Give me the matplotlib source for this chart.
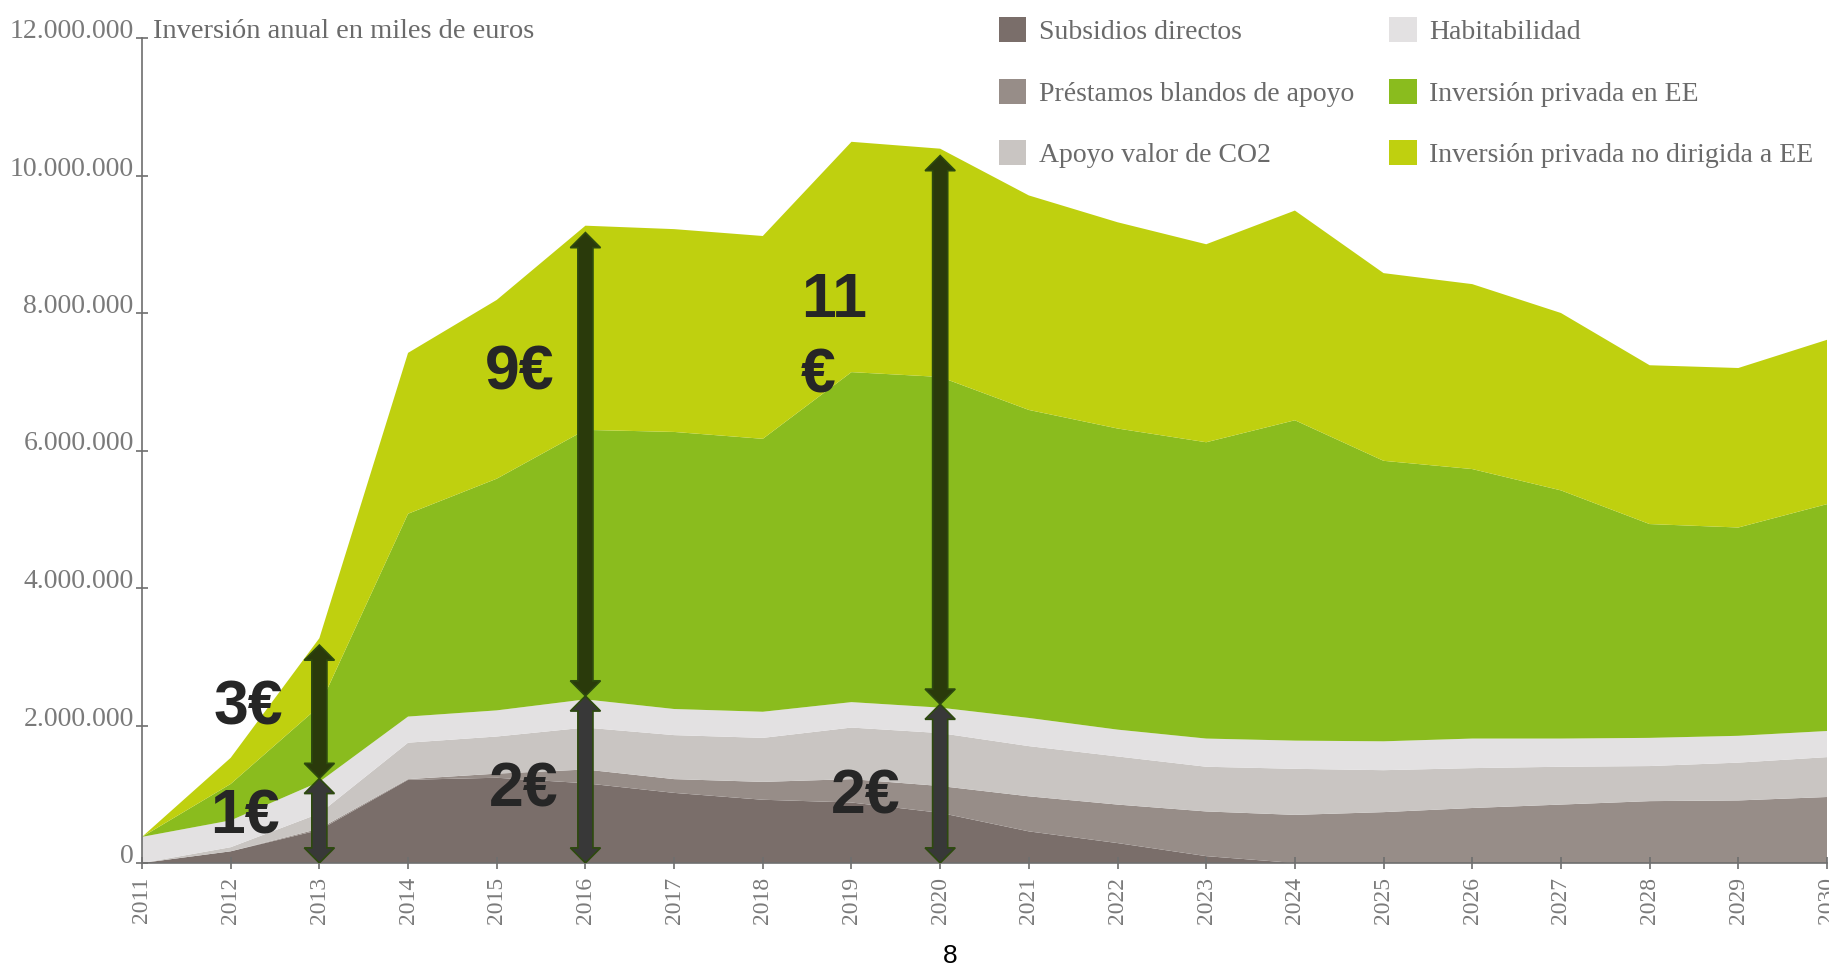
import numpy as np
import matplotlib
matplotlib.use("Agg")
import matplotlib.pyplot as plt
from matplotlib.patches import Polygon
from matplotlib.ticker import FuncFormatter

# --- data (millions of thousand-euros) ---
years = list(range(2011, 2031))
subsidios = [0.00, 0.17, 0.48, 1.21, 1.24, 1.16, 1.02, 0.92, 0.88, 0.73,
             0.46, 0.29, 0.10, 0.00, 0.00, 0.00, 0.00, 0.00, 0.00, 0.00]
prestamos = [0.00, 0.00, 0.02, 0.01, 0.06, 0.20, 0.20, 0.26, 0.34, 0.39,
             0.51, 0.56, 0.65, 0.70, 0.74, 0.80, 0.85, 0.90, 0.91, 0.96]
co2 = [0.00, 0.06, 0.22, 0.53, 0.54, 0.61, 0.64, 0.64, 0.75, 0.77,
       0.73, 0.70, 0.65, 0.67, 0.61, 0.58, 0.55, 0.51, 0.55, 0.58]
habitabilidad = [0.38, 0.39, 0.46, 0.38, 0.38, 0.41, 0.38, 0.38, 0.37, 0.37,
                 0.41, 0.39, 0.41, 0.41, 0.42, 0.43, 0.41, 0.41, 0.39, 0.38]
privada_ee = [0.00, 0.53, 1.10, 2.95, 3.37, 3.92, 4.03, 3.97, 4.80, 4.81,
              4.48, 4.38, 4.31, 4.66, 4.08, 3.92, 3.61, 3.11, 3.03, 3.30]
privada_no_ee = [0.00, 0.38, 0.99, 2.34, 2.60, 2.97, 2.95, 2.95, 3.35, 3.32,
                 3.12, 3.00, 2.88, 3.05, 2.73, 2.69, 2.58, 2.31, 2.32, 2.39]

labels = ["Subsidios directos", "Préstamos blandos de apoyo", "Apoyo valor de CO2",
          "Habitabilidad", "Inversión privada en EE", "Inversión privada no dirigida a EE"]
colors = ["#7A6E6A", "#978D88", "#C9C5C2", "#E3E1E2", "#8ABC1E", "#BFD00F"]

# annotated years
arrow_years = [2013, 2016, 2020]

layers = np.array([subsidios, prestamos, co2, habitabilidad, privada_ee, privada_no_ee]) * 1e6
public_top = layers[:4].sum(axis=0)
total = layers.sum(axis=0)

# --- plot ---
fig = plt.figure(figsize=(18.29, 9.67), dpi=100)
ax = fig.add_axes([142 / 1829, 1 - 863 / 967, 1685 / 1829, 825 / 967])

ax.stackplot(years, layers, labels=labels, colors=colors, linewidth=0)

ax.set_xlim(2011, 2030)
ax.set_ylim(0, 12e6)
ax.set_xticks(years)
ax.set_yticks(np.arange(0, 12e6 + 1, 2e6))
ax.yaxis.set_major_formatter(FuncFormatter(lambda v, p: f"{v:,.0f}".replace(",", ".")))

grey = "#7a7a7a"
for s in ["top", "right"]:
    ax.spines[s].set_visible(False)
for s in ["left", "bottom"]:
    ax.spines[s].set_color("#6e6e6e")
    ax.spines[s].set_linewidth(1.2)
ax.tick_params(direction="inout", length=8, width=1.2, color="#6e6e6e")
ax.tick_params(axis="y", labelsize=20, labelcolor=grey, pad=2)
ax.tick_params(axis="x", labelsize=17, labelcolor=grey, rotation=90, pad=6)
for t in ax.get_yticklabels():
    t.set_fontfamily("Liberation Serif")
    t.set_verticalalignment("baseline")
for t in ax.get_xticklabels():
    t.set_fontfamily("Liberation Serif")

ax.text(0.0065, 1.0, "Inversión anual en miles de euros", transform=ax.transAxes,
        fontsize=20.5, color="#6a6a6a", family="Liberation Serif", va="baseline")

ax.legend(loc="upper left", bbox_to_anchor=(0.546, 0.982), bbox_transform=fig.transFigure,
          ncol=2, frameon=False, borderaxespad=0, borderpad=0,
          prop={"family": "Liberation Serif", "size": 20},
          labelcolor="#6a6a6a", handlelength=1.0, handleheight=1.0,
          handletextpad=0.45, columnspacing=1.25, labelspacing=1.2)


# --- arrows ---
def double_arrow(x, y0, y1, fill):
    w, hw, hl = 0.085, 0.17, 0.22e6
    pts = [(x, y0), (x + hw, y0 + hl), (x + w, y0 + hl), (x + w, y1 - hl),
           (x + hw, y1 - hl), (x, y1), (x - hw, y1 - hl), (x - w, y1 - hl),
           (x - w, y0 + hl), (x - hw, y0 + hl)]
    ax.add_patch(Polygon(pts, closed=True, fc=fill, ec="#2d4a0e", lw=1.2, zorder=5))


for yr in arrow_years:
    i = years.index(yr)
    mid = public_top[i] + 0.05e6
    double_arrow(yr, 0, mid, "#383838")
    double_arrow(yr, mid, total[i] - 0.1e6, "#2a3a0b")

lab = dict(fontsize=45, fontweight="bold", color="#262626", family="Liberation Sans",
           ha="center", va="center", zorder=6)
ax.text(2012.16, 0.67e6, "1€", **lab)
ax.text(2012.2, 2.25e6, "3€", **lab)
ax.text(2015.3, 1.06e6, "2€", **lab)
ax.text(2015.26, 7.13e6, "9€", **lab)
ax.text(2019.16, 0.96e6, "2€", **lab)
lab.update(ha="left", linespacing=1.35)
ax.text(2018.43, 7.63e6, "11\n€", **lab)

fig.text(0.5195, 0.011, "8", fontsize=19, ha="center", va="center", family="Liberation Sans")

plt.savefig("out.png", dpi=100)
